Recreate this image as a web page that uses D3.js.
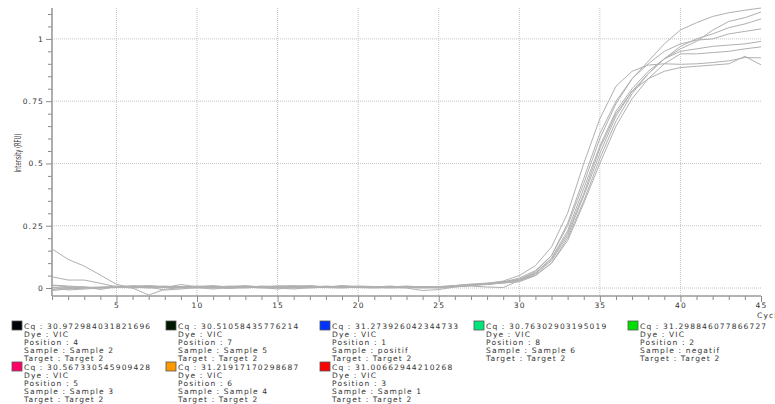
<!DOCTYPE html>
<html>
<head>
<meta charset="utf-8">
<script src="https://cdn.jsdelivr.net/npm/d3@7"></script>
<style>
  html, body { margin: 0; padding: 0; background: #fff; }
  svg { display: block; }
  .tick text, .legend-text, .axis-title { font-family: "DejaVu Sans", sans-serif; fill: #333; }
  .grid line { stroke: #c4c4c4; stroke-dasharray: 1,1; }
  .curve { fill: none; stroke: #b0b0b0; stroke-width: 1; }
</style>
</head>
<body>
<div id="dataviz"></div>
<script>
//----------------
// Data
//----------------

const cycles = [1, 2, 3, 4, 5, 6, 7, 8, 9, 10, 11, 12, 13, 14, 15, 16, 17, 18, 19, 20,
  21, 22, 23, 24, 25, 26, 27, 28, 29, 30, 31, 32, 33, 34, 35, 36, 37, 38, 39, 40,
  41, 42, 43, 44, 45];

// one array per well, RFU value for each cycle
const wellA = [0.010, 0.005, 0.002, 0.000, 0.006, 0.004, 0.002, 0.008, 0.004, 0.003,
  0.006, 0.004, 0.000, 0.004, 0.008, 0.005, 0.003, 0.006, 0.004, 0.002,
  0.004, 0.006, 0.003, 0.005, 0.004, 0.008, 0.012,
  0.018, 0.028, 0.050, 0.090, 0.165, 0.300, 0.500, 0.680, 0.810, 0.870, 0.895, 0.900,
  0.898, 0.900, 0.905, 0.912, 0.925, 0.924];
const wellB = [0.157, 0.115, 0.088, 0.052, 0.015, 0.000, -0.028, -0.005, 0.002, 0.005,
  0.004, 0.000, 0.003, 0.006, 0.002, 0.004, 0.008, 0.005, 0.003, 0.006,
  0.004, 0.002, 0.000, -0.010, -0.006, 0.004, 0.010,
  0.016, 0.024, 0.040, 0.070, 0.130, 0.250, 0.420, 0.600, 0.740, 0.840, 0.910, 0.980,
  1.036, 1.065, 1.090, 1.105, 1.115, 1.124];
const wellC = [0.045, 0.032, 0.032, 0.019, 0.005, 0.000, 0.004, 0.006, 0.002, 0.000,
  0.003, 0.008, 0.004, 0.002, -0.004, 0.003, 0.006, 0.002, 0.000, 0.004,
  0.006, 0.003, 0.005, 0.002, 0.000, 0.006, 0.012,
  0.015, 0.022, 0.035, 0.060, 0.120, 0.230, 0.400, 0.570, 0.710, 0.800, 0.870, 0.920,
  0.960, 0.990, 1.035, 1.070, 1.085, 1.108];
const wellD = [-0.010, -0.004, 0.000, 0.003, 0.004, 0.010, 0.006, 0.002, 0.014, 0.005,
  0.002, 0.006, 0.004, 0.000, 0.002, 0.006, 0.010, 0.004, 0.006, 0.002,
  0.000, 0.004, 0.002, 0.003, 0.004, 0.010, 0.014,
  0.016, 0.020, 0.030, 0.055, 0.110, 0.210, 0.370, 0.540, 0.690, 0.790, 0.860, 0.920,
  0.970, 1.000, 1.020, 1.045, 1.060, 1.080];
const wellE = [0.000, 0.002, 0.005, -0.006, 0.006, 0.003, 0.008, 0.004, 0.000, 0.006,
  0.010, 0.004, 0.002, 0.006, 0.004, 0.000, 0.003, 0.008, 0.004, 0.002,
  0.004, 0.002, 0.006, 0.003, 0.002, 0.008, 0.012,
  0.016, 0.024, 0.035, 0.065, 0.130, 0.260, 0.440, 0.620, 0.750, 0.840, 0.900, 0.950,
  0.980, 0.995, 1.000, 1.020, 1.030, 1.040];
const wellF = [0.012, 0.008, 0.004, 0.002, 0.008, 0.006, 0.004, -0.008, -0.004, 0.002,
  -0.004, 0.002, 0.006, 0.004, 0.008, 0.010, 0.006, 0.003, 0.008, 0.004,
  0.002, 0.000, 0.004, 0.006, 0.002, 0.005, 0.008,
  0.004, 0.002, 0.030, 0.050, 0.100, 0.200, 0.350, 0.520, 0.670, 0.780, 0.860, 0.920,
  0.950, 0.960, 0.970, 0.975, 0.980, 0.990];
const wellG = [-0.006, -0.002, 0.000, 0.004, 0.002, 0.006, 0.010, 0.006, 0.004, 0.008,
  0.004, -0.002, 0.002, 0.008, 0.006, 0.002, 0.000, 0.004, 0.010, 0.006,
  0.004, 0.008, 0.002, 0.000, 0.003, 0.006, 0.010,
  0.014, 0.020, 0.025, 0.050, 0.100, 0.190, 0.340, 0.500, 0.650, 0.760, 0.840, 0.900,
  0.940, 0.940, 0.945, 0.950, 0.960, 0.968];
const wellH = [0.004, -0.008, -0.004, 0.000, 0.002, 0.004, 0.000, 0.002, 0.006, 0.004,
  0.000, 0.006, 0.010, 0.004, 0.000, -0.004, 0.002, 0.006, 0.004, 0.008,
  0.006, 0.004, 0.008, 0.004, 0.006, 0.010, 0.016,
  0.020, 0.026, 0.030, 0.060, 0.115, 0.220, 0.380, 0.560, 0.700, 0.790, 0.840, 0.870,
  0.885, 0.890, 0.895, 0.900, 0.930, 0.896];

const curves = [wellA, wellB, wellC, wellD, wellE, wellF, wellG, wellH];

// legend
const cqValues = ["30.972984031821696", "30.51058435776214", "31.273926042344733",
  "30.76302903195019", "31.298846077866727", "30.567330545909428",
  "31.21917170298687", "31.00662944210268"];
const positions = ["4", "7", "1", "8", "2", "5", "6", "3"];
const samples = ["Sample 2", "Sample 5", "positif", "Sample 6", "negatif",
  "Sample 3", "Sample 4", "Sample 1"];
const wellColors = ["#000008", "#001800", "#0033ff", "#00e67a", "#00e000",
  "#ff0066", "#ff9900", "#ff0000"];
const dye = "VIC";
const target = "Target 2";

const xMajor = [5, 10, 15, 20, 25, 30, 35, 40, 45];
const yMajor = [0, 0.25, 0.5, 0.75, 1];
const yLabels = ["0", "0.25", "0.5", "0.75", "1"];

//----------------
// Constants
//----------------

const W = 775, H = 404;
const plot = {left: 52, right: 761, top: 8, bottom: 296};
const fontSize = 7.5;
const spacing = 1.15;

//----------------
// Draw
//----------------

function drawAxes(svg, x, y) {
  // grid
  var grid = svg.append("g").attr("class", "grid");
  grid.selectAll(".vg")
    .data(xMajor.filter(function(d) { return d < 45; }))
    .enter().append("line")
      .attr("x1", function(d) { return x(d); })
      .attr("x2", function(d) { return x(d); })
      .attr("y1", plot.top)
      .attr("y2", plot.bottom);
  grid.selectAll(".hg")
    .data(yMajor)
    .enter().append("line")
      .attr("x1", plot.left)
      .attr("x2", plot.right)
      .attr("y1", function(d) { return y(d); })
      .attr("y2", function(d) { return y(d); });

  // minor ticks
  var yMinor = d3.range(1, 23).map(function(i) { return i * 0.05; })
    .filter(function(d) { return yMajor.indexOf(+d.toFixed(2)) < 0; });
  svg.append("g")
    .attr("transform", "translate(" + plot.left + ",0)")
    .call(d3.axisLeft(y).tickValues(yMinor).tickSize(4).tickSizeOuter(0).tickFormat(""))
    .call(function(g) { g.select(".domain").remove(); });
  svg.append("g")
    .attr("transform", "translate(0," + plot.bottom + ")")
    .call(d3.axisBottom(x).tickValues(cycles.filter(function(d) { return d % 5 != 0; }))
      .tickSize(4).tickSizeOuter(0).tickFormat(""))
    .call(function(g) { g.select(".domain").remove(); });

  // major ticks
  var yAxis = svg.append("g")
    .attr("transform", "translate(" + plot.left + ",0)")
    .call(d3.axisLeft(y).tickValues(yMajor).tickSize(6).tickSizeOuter(0)
      .tickFormat(function(d, i) { return yLabels[i]; }));
  var xAxis = svg.append("g")
    .attr("transform", "translate(0," + plot.bottom + ")")
    .call(d3.axisBottom(x).tickValues(xMajor).tickSize(6).tickSizeOuter(0));

  svg.selectAll(".tick line").attr("stroke", "#8a8a8a");
  yAxis.select(".domain").attr("stroke", "#9a9a9a").attr("stroke-width", 1.6)
    .attr("d", "M0," + plot.top + "V" + plot.bottom);
  xAxis.select(".domain").attr("stroke", "#9a9a9a").attr("stroke-width", 1.6)
    .attr("d", "M" + plot.left + ",0H" + plot.right);

  svg.selectAll(".tick text")
    .style("font-size", fontSize + "px")
    .style("letter-spacing", spacing + "px")
    .attr("fill", "#333");
  yAxis.selectAll(".tick text").attr("x", -8);
  xAxis.selectAll(".tick text").attr("y", 7);

  // titles
  svg.append("text")
    .attr("class", "axis-title")
    .attr("transform", "translate(21,153) rotate(-90)")
    .attr("text-anchor", "middle")
    .attr("textLength", 39)
    .attr("lengthAdjust", "spacingAndGlyphs")
    .style("font-size", "8px")
    .text("Intensity (RFU)");
  // x title runs past the right edge, as in the source export
  svg.append("text")
    .attr("class", "axis-title")
    .attr("x", 757)
    .attr("y", 318)
    .style("font-size", fontSize + "px")
    .style("letter-spacing", spacing + "px")
    .text("Cycles");
}

function drawCurves(svg, x, y) {
  var line = d3.line()
    .x(function(_, i) { return x(cycles[i]); })
    .y(function(d) { return y(d); });
  svg.append("g").attr("id", "curves")
    .selectAll("path")
    .data(curves)
    .enter().append("path")
      .attr("class", "curve")
      .attr("d", line);
}

function drawLegend(svg) {
  var legend = svg.append("g").attr("id", "legend");
  var items = legend.selectAll(".item")
    .data(cqValues)
    .enter().append("g")
      .attr("class", "item")
      .attr("transform", function(_, i) {
        return "translate(" + (12 + (i % 5) * 154) + "," + (321 + Math.floor(i / 5) * 41) + ")";
      });

  items.append("rect")
    .attr("width", 10)
    .attr("height", 9)
    .attr("fill", function(_, i) { return wellColors[i]; })
    .attr("stroke", "#555")
    .attr("stroke-width", 0.8);

  var lines = function(d, i) {
    return ["Cq : " + d, "Dye : " + dye, "Position : " + positions[i],
      "Sample : " + samples[i], "Target : " + target];
  };
  items.each(function(d, i) {
    d3.select(this).selectAll("text")
      .data(lines(d, i))
      .enter().append("text")
        .attr("class", "legend-text")
        .attr("x", 12)
        .attr("y", function(_, j) { return 8 + j * 8.1; })
        .style("font-size", fontSize + "px")
        .style("letter-spacing", spacing + "px")
        .text(function(t) { return t; });
  });
}

//----------------
// Main
//----------------

function main() {
  var svg = d3.select("#dataviz").append("svg")
    .attr("width", W)
    .attr("height", H);

  var x = d3.scaleLinear().domain([1, 45]).range([plot.left, plot.right]);
  var y = d3.scaleLinear().domain([-0.032, 1.124]).range([plot.bottom, plot.top]);

  drawAxes(svg, x, y);
  drawCurves(svg, x, y);
  drawLegend(svg);
}

main();
</script>
</body>
</html>
